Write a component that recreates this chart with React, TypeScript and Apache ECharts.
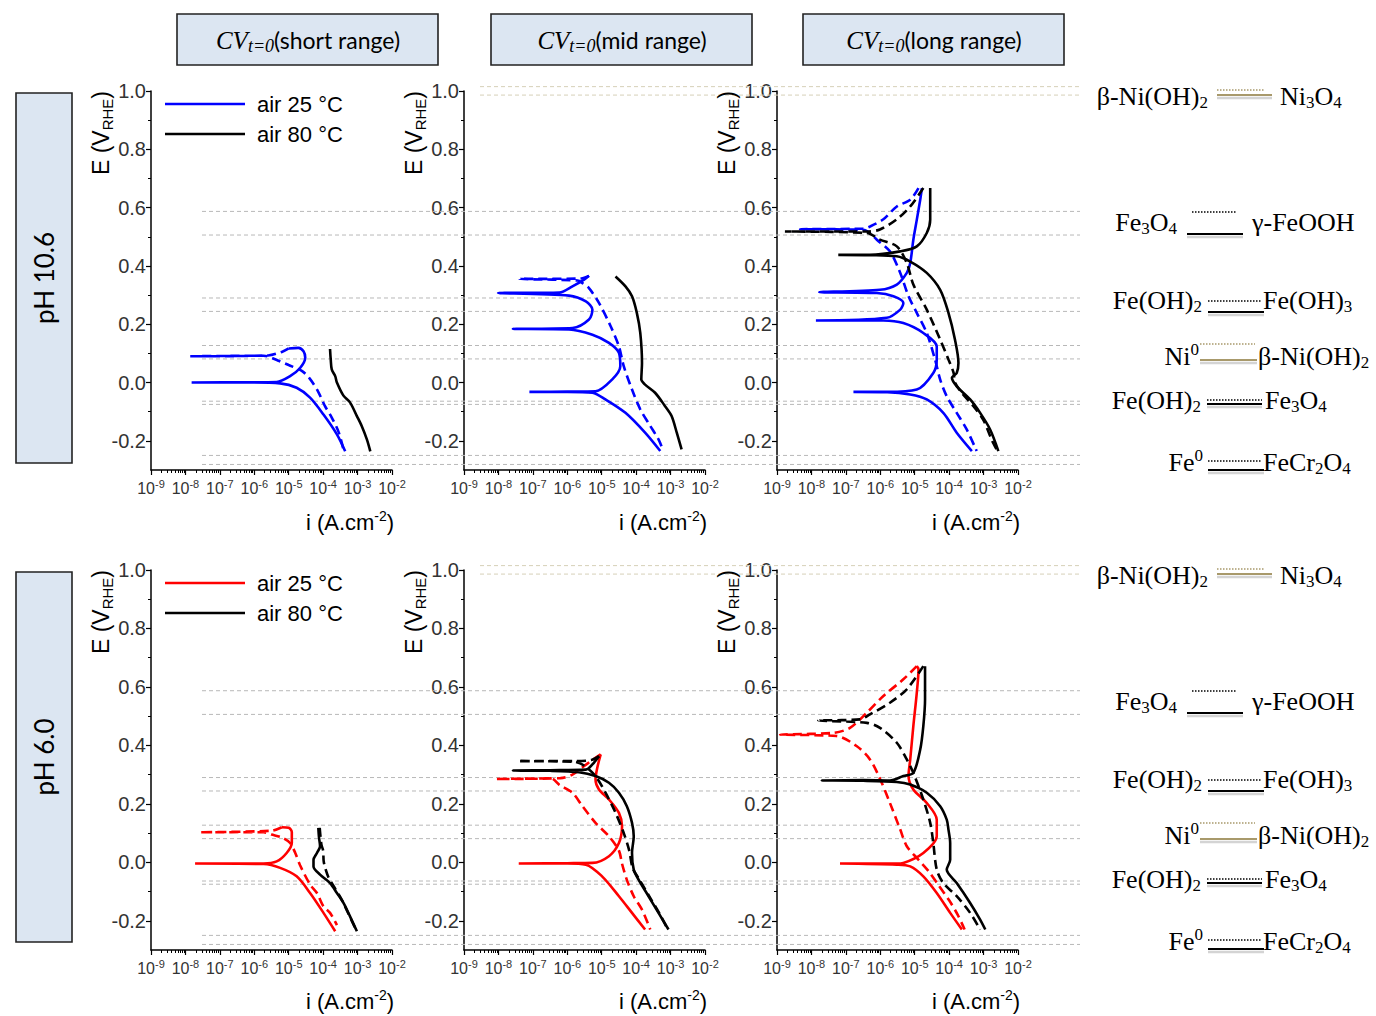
import React, { useEffect, useRef } from 'react';
import * as echarts from 'echarts';

type Pt = [number, number];
// x = log10 of current density i (A.cm^-2), y = E (V_RHE)

// pH 10.6 — short range
const a1BlueSolid: Pt[] = [[-3.36,-0.236],[-3.60,-0.178],[-3.99,-0.110],[-4.38,-0.052],[-4.77,-0.018],[-5.25,-0.003],[-6.20,0.000],[-7.82,0.000],[-6.20,0.001],[-5.35,0.002],[-4.96,0.022],[-4.67,0.050],[-4.52,0.085],[-4.57,0.107],[-4.72,0.119],[-5.00,0.117]];
const a1BlueDash: Pt[] = [[-5.00,0.117],[-5.20,0.105],[-5.60,0.093],[-7.86,0.090],[-5.73,0.092],[-5.30,0.075],[-5.00,0.060],[-4.62,0.040],[-4.40,0.015],[-4.15,-0.030],[-3.95,-0.080],[-3.75,-0.120],[-3.55,-0.170],[-3.42,-0.225]];
const a1Black: Pt[] = [[-3.80,0.115],[-3.78,0.080],[-3.75,0.045],[-3.65,0.022],[-3.60,0.000],[-3.41,-0.045],[-3.22,-0.068],[-3.02,-0.115],[-2.88,-0.149],[-2.73,-0.195],[-2.63,-0.236]];

// pH 10.6 — mid range
const a2BlueSolid: Pt[] = [[-3.30,-0.235],[-3.74,-0.172],[-4.31,-0.104],[-4.89,-0.058],[-5.27,-0.035],[-6.00,-0.032],[-7.10,-0.032],[-6.00,-0.031],[-5.18,-0.030],[-4.70,0.010],[-4.46,0.056],[-4.50,0.102],[-4.79,0.136],[-5.27,0.164],[-5.95,0.182],[-7.58,0.184],[-5.85,0.187],[-5.37,0.216],[-5.27,0.250],[-5.46,0.278],[-5.95,0.298],[-8.01,0.307],[-6.23,0.309],[-5.85,0.330],[-5.51,0.353],[-5.37,0.366]];
const a2BlueDash: Pt[] = [[-5.37,0.366],[-5.60,0.357],[-7.39,0.355],[-5.70,0.350],[-5.56,0.341],[-5.37,0.324],[-5.08,0.273],[-4.74,0.193],[-4.50,0.124],[-4.36,0.056],[-4.12,-0.024],[-3.88,-0.092],[-3.59,-0.149],[-3.35,-0.195],[-3.21,-0.235]];
const a2Black: Pt[] = [[-4.60,0.364],[-4.31,0.330],[-4.12,0.296],[-3.98,0.239],[-3.88,0.170],[-3.83,0.067],[-3.85,0.010],[-3.74,-0.007],[-3.45,-0.035],[-3.16,-0.081],[-2.97,-0.115],[-2.82,-0.172],[-2.68,-0.229]];

// pH 10.6 — long range
const a3BlueSolid: Pt[] = [[-3.34,-0.235],[-3.78,-0.172],[-4.17,-0.104],[-4.65,-0.058],[-5.13,-0.041],[-5.80,-0.033],[-6.78,-0.032],[-5.80,-0.032],[-4.94,-0.024],[-4.46,0.033],[-4.36,0.079],[-4.36,0.124],[-4.75,0.170],[-5.33,0.204],[-5.91,0.213],[-7.87,0.213],[-5.81,0.222],[-5.42,0.250],[-5.33,0.273],[-5.62,0.296],[-6.10,0.307],[-7.77,0.310],[-6.01,0.318],[-5.52,0.336],[-5.23,0.376],[-5.13,0.410],[-5.04,0.490],[-4.94,0.558],[-4.84,0.627],[-4.79,0.667]];
const a3BlueDash: Pt[] = [[-4.89,0.667],[-5.13,0.627],[-5.52,0.604],[-5.91,0.560],[-6.30,0.535],[-6.49,0.528],[-8.33,0.526],[-6.49,0.524],[-6.30,0.513],[-6.10,0.490],[-5.72,0.450],[-5.42,0.376],[-5.18,0.296],[-4.94,0.239],[-4.65,0.170],[-4.41,0.079],[-4.26,0.010],[-4.07,-0.047],[-3.78,-0.104],[-3.49,-0.161],[-3.20,-0.235]];
const a3BlackSolid: Pt[] = [[-4.55,0.667],[-4.55,0.558],[-4.65,0.513],[-4.94,0.467],[-5.42,0.450],[-6.30,0.438],[-7.22,0.438],[-6.30,0.437],[-5.52,0.433],[-5.13,0.415],[-4.65,0.376],[-4.26,0.318],[-4.02,0.239],[-3.83,0.147],[-3.73,0.067],[-3.78,0.033],[-3.92,0.016],[-3.78,-0.013],[-3.39,-0.058],[-3.10,-0.104],[-2.81,-0.161],[-2.57,-0.235]];
const a3BlackDash: Pt[] = [[-4.75,0.667],[-5.13,0.604],[-5.52,0.560],[-6.01,0.525],[-6.39,0.518],[-8.77,0.518],[-6.39,0.513],[-6.01,0.490],[-5.52,0.467],[-5.23,0.410],[-5.04,0.336],[-4.65,0.250],[-4.26,0.147],[-4.02,0.079],[-3.87,0.033],[-3.83,0.000],[-3.60,-0.040],[-3.30,-0.080],[-3.00,-0.130],[-2.75,-0.200],[-2.62,-0.230]];

// pH 6.0 — short range
const b1RedSolid: Pt[] = [[-3.65,-0.236],[-3.99,-0.173],[-4.38,-0.105],[-4.77,-0.048],[-5.25,-0.019],[-5.73,-0.006],[-7.72,-0.004],[-5.73,-0.004],[-5.35,0.003],[-5.06,0.032],[-4.91,0.066],[-4.91,0.103],[-5.00,0.118],[-5.20,0.120]];
const b1RedDash: Pt[] = [[-5.20,0.120],[-5.50,0.108],[-7.58,0.103],[-5.73,0.103],[-5.50,0.095],[-5.20,0.085],[-4.96,0.066],[-4.81,0.032],[-4.67,-0.010],[-4.38,-0.076],[-4.18,-0.105],[-3.99,-0.151],[-3.80,-0.173],[-3.60,-0.215]];
const b1BlackSolid: Pt[] = [[-4.14,0.118],[-4.12,0.085],[-4.09,0.055],[-4.18,0.032],[-4.28,0.009],[-4.28,-0.014],[-4.09,-0.042],[-3.80,-0.071],[-3.60,-0.105],[-3.41,-0.139],[-3.22,-0.185],[-3.02,-0.236]];
const b1BlackDash: Pt[] = [[-4.10,0.118],[-4.05,0.060],[-4.00,0.040],[-3.98,0.000],[-3.85,-0.050],[-3.65,-0.090],[-3.45,-0.130],[-3.25,-0.180],[-3.05,-0.230]];

// pH 6.0 — mid range
const b2RedSolid: Pt[] = [[-3.74,-0.230],[-4.12,-0.173],[-4.50,-0.116],[-4.99,-0.048],[-5.46,-0.008],[-6.00,-0.004],[-7.41,-0.004],[-6.00,-0.003],[-5.27,-0.002],[-4.79,0.021],[-4.50,0.066],[-4.41,0.123],[-4.50,0.169],[-4.79,0.215],[-5.08,0.249],[-5.18,0.283],[-5.13,0.323],[-5.03,0.369]];
const b2RedDash: Pt[] = [[-5.03,0.369],[-5.27,0.350],[-5.56,0.325],[-5.85,0.300],[-6.20,0.288],[-8.06,0.285],[-6.47,0.287],[-6.23,0.265],[-5.85,0.238],[-5.56,0.192],[-5.18,0.135],[-4.79,0.089],[-4.50,0.040],[-4.41,-0.005],[-4.27,-0.060],[-4.07,-0.116],[-3.83,-0.162],[-3.59,-0.230]];
const b2BlackSolid: Pt[] = [[-3.06,-0.230],[-3.35,-0.173],[-3.64,-0.116],[-3.93,-0.059],[-4.07,-0.025],[-4.12,0.032],[-4.07,0.089],[-4.12,0.135],[-4.27,0.192],[-4.50,0.238],[-4.79,0.272],[-5.18,0.295],[-5.66,0.308],[-6.50,0.313],[-7.58,0.314],[-6.50,0.315],[-5.46,0.317],[-5.27,0.335],[-5.08,0.363]];
const b2BlackDash: Pt[] = [[-5.08,0.363],[-5.30,0.350],[-5.75,0.346],[-7.43,0.346],[-5.80,0.344],[-5.50,0.330],[-5.18,0.295],[-4.89,0.238],[-4.60,0.170],[-4.36,0.100],[-4.20,0.040],[-4.10,-0.020],[-3.90,-0.060],[-3.60,-0.120],[-3.30,-0.180],[-3.10,-0.225]];

// pH 6.0 — long range
const b3RedSolid: Pt[] = [[-3.63,-0.230],[-3.97,-0.173],[-4.36,-0.105],[-4.75,-0.048],[-5.13,-0.014],[-5.52,-0.008],[-7.17,-0.004],[-5.52,-0.004],[-5.33,-0.002],[-4.75,0.032],[-4.36,0.089],[-4.36,0.146],[-4.65,0.203],[-5.04,0.249],[-5.18,0.295],[-5.13,0.352],[-5.04,0.466],[-4.94,0.580],[-4.89,0.660],[-4.94,0.671]];
const b3RedDash: Pt[] = [[-4.94,0.671],[-5.33,0.626],[-5.91,0.569],[-6.39,0.512],[-6.88,0.460],[-7.36,0.443],[-8.91,0.437],[-7.27,0.432],[-6.68,0.397],[-6.30,0.352],[-6.01,0.286],[-5.72,0.203],[-5.42,0.112],[-5.23,0.055],[-4.90,0.010],[-4.60,-0.030],[-4.30,-0.080],[-4.00,-0.130],[-3.75,-0.180],[-3.55,-0.230]];
const b3BlackSolid: Pt[] = [[-2.95,-0.230],[-3.10,-0.196],[-3.39,-0.139],[-3.78,-0.071],[-4.07,-0.025],[-3.97,0.009],[-3.97,0.066],[-4.02,0.112],[-4.07,0.146],[-4.26,0.192],[-4.65,0.238],[-5.13,0.266],[-5.52,0.275],[-6.50,0.279],[-7.70,0.280],[-6.50,0.281],[-5.72,0.280],[-5.33,0.295],[-5.04,0.306],[-4.84,0.386],[-4.75,0.466],[-4.70,0.557],[-4.70,0.671]];
const b3BlackDash: Pt[] = [[-4.75,0.671],[-5.23,0.592],[-5.72,0.546],[-6.30,0.506],[-6.59,0.489],[-7.80,0.485],[-6.39,0.477],[-6.01,0.460],[-5.52,0.409],[-5.23,0.352],[-5.04,0.306],[-4.75,0.215],[-4.55,0.135],[-4.46,0.066],[-4.36,-0.025],[-4.17,-0.071],[-3.78,-0.116],[-3.39,-0.173],[-3.10,-0.230]];

// equilibrium potentials (V_RHE)
const eqLevels = [0.587, 0.506, 0.290, 0.244, 0.127, 0.081, -0.064, -0.075, -0.250, -0.281];
const niTopLevels = [1.015, 0.986];

// axes
const yTickValues = [-0.2, 0, 0.2, 0.4, 0.6, 0.8, 1.0];
const yMinorValues = [-0.1, 0.1, 0.3, 0.5, 0.7, 0.9];
const titles = ['short range', 'mid range', 'long range'];
const rowLabels = ['pH 10.6', 'pH 6.0'];
const legendNames = ['air 25 °C', 'air 80 °C'];

const BLUE = '#0000ff';
const RED = '#ff0000';
const BLACK = '#000000';
const KHAKI = '#a8996b';

const SANS = "'Liberation Sans', Arial, sans-serif";
const SERIF = "'Liberation Serif', 'Times New Roman', serif";
const BOXF = "Lato, 'Open Sans', sans-serif";

type Curve = { d: Pt[]; c: string; dash: boolean };
const panels: { row: number; col: number; curves: Curve[] }[] = [
  { row: 0, col: 0, curves: [{ d: a1BlueSolid, c: BLUE, dash: false }, { d: a1BlueDash, c: BLUE, dash: true }, { d: a1Black, c: BLACK, dash: false }] },
  { row: 0, col: 1, curves: [{ d: a2BlueSolid, c: BLUE, dash: false }, { d: a2BlueDash, c: BLUE, dash: true }, { d: a2Black, c: BLACK, dash: false }] },
  { row: 0, col: 2, curves: [{ d: a3BlueSolid, c: BLUE, dash: false }, { d: a3BlueDash, c: BLUE, dash: true }, { d: a3BlackSolid, c: BLACK, dash: false }, { d: a3BlackDash, c: BLACK, dash: true }] },
  { row: 1, col: 0, curves: [{ d: b1RedSolid, c: RED, dash: false }, { d: b1RedDash, c: RED, dash: true }, { d: b1BlackSolid, c: BLACK, dash: false }, { d: b1BlackDash, c: BLACK, dash: true }] },
  { row: 1, col: 1, curves: [{ d: b2RedSolid, c: RED, dash: false }, { d: b2RedDash, c: RED, dash: true }, { d: b2BlackSolid, c: BLACK, dash: false }, { d: b2BlackDash, c: BLACK, dash: true }] },
  { row: 1, col: 2, curves: [{ d: b3RedSolid, c: RED, dash: false }, { d: b3RedDash, c: RED, dash: true }, { d: b3BlackSolid, c: BLACK, dash: false }, { d: b3BlackDash, c: BLACK, dash: true }] },
];

// layout
const COL_LEFT = [151, 464, 777];
const ROW_TOP = [91, 570];
const ROW_H = [379, 380];
const PANEL_W = 241;
const ROW_DY = 479;

function buildOption() {
  const grid: any[] = [];
  const xAxis: any[] = [];
  const yAxis: any[] = [];
  const series: any[] = [];
  const xMinor: number[] = [];
  for (let n = -9; n < -2; n++) for (let k = 2; k <= 9; k++) xMinor.push(n + Math.log10(k));

  panels.forEach((p, g) => {
    grid.push({ left: COL_LEFT[p.col], top: ROW_TOP[p.row], width: PANEL_W, height: ROW_H[p.row] });
    xAxis.push({
      gridIndex: g, type: 'value', min: -9, max: -2, interval: 1, position: 'bottom',
      axisLine: { onZero: false, lineStyle: { color: '#000', width: 1.5 } },
      axisTick: { length: 5, lineStyle: { color: '#000', width: 1.2 } },
      splitLine: { show: false },
      axisLabel: {
        margin: 8, color: '#333',
        formatter: (v: number) => `{b|10}{s|${v}}`,
        rich: {
          b: { fontFamily: SANS, fontSize: 16, color: '#333', lineHeight: 20 },
          s: { fontFamily: SANS, fontSize: 11, color: '#333', lineHeight: 12, verticalAlign: 'top' },
        },
      },
    });
    xAxis.push({
      gridIndex: g, type: 'value', min: -9, max: -2, position: 'bottom',
      axisLine: { show: false, onZero: false }, axisLabel: { show: false }, splitLine: { show: false },
      axisTick: { show: true, length: 3, customValues: xMinor, lineStyle: { color: '#000', width: 1 } },
    });
    yAxis.push({
      gridIndex: g, type: 'value', min: -0.3, max: 1.0, position: 'left',
      axisLine: { show: true, onZero: false, lineStyle: { color: '#000', width: 1.5 } },
      axisTick: { show: true, length: 5, customValues: yTickValues, lineStyle: { color: '#000', width: 1.2 } },
      splitLine: { show: false },
      axisLabel: { customValues: yTickValues, margin: 5, fontFamily: SANS, fontSize: 20, color: '#333', formatter: (v: number) => v.toFixed(1) },
    });
    yAxis.push({
      gridIndex: g, type: 'value', min: -0.3, max: 1.0, position: 'left',
      axisLine: { show: false, onZero: false }, axisLabel: { show: false }, splitLine: { show: false },
      axisTick: { show: true, length: 3, customValues: yMinorValues, lineStyle: { color: '#000', width: 1 } },
    });
    p.curves.forEach((c) => {
      series.push({
        type: 'line', xAxisIndex: 2 * g, yAxisIndex: 2 * g, data: c.d,
        symbol: 'none', smooth: 0.3, silent: true, z: 3,
        lineStyle: { color: c.c, width: 2.6, type: c.dash ? [9, 5] : 'solid' },
      });
    });
  });

  // overlay grids for equilibrium lines
  [0, 1].forEach((r) => {
    const pxPerV = ROW_H[r] / 1.3;
    grid.push({ left: 202, width: 878, top: ROW_TOP[r] - 0.1 * pxPerV, height: 1.4 * pxPerV });
  });
  [0, 1].forEach((r) => {
    const pxPerV = ROW_H[r] / 1.3;
    grid.push({ left: 480, width: 600, top: ROW_TOP[r] - 0.1 * pxPerV, height: 1.4 * pxPerV });
  });
  for (let k = 0; k < 4; k++) {
    xAxis.push({ gridIndex: 6 + k, type: 'value', min: 0, max: 1, show: false });
    yAxis.push({ gridIndex: 6 + k, type: 'value', min: -0.3, max: 1.1, show: false });
  }
  const base = 12;
  [0, 1].forEach((r) => {
    eqLevels.forEach((v) => {
      series.push({
        type: 'line', xAxisIndex: base + r, yAxisIndex: base + r, data: [[0, v], [1, v]],
        symbol: 'none', silent: true, z: 1, lineStyle: { color: '#b8b8b8', width: 1, type: [4, 3] },
      });
    });
    niTopLevels.forEach((v) => {
      series.push({
        type: 'line', xAxisIndex: base + 2 + r, yAxisIndex: base + 2 + r, data: [[0, v], [1, v]],
        symbol: 'none', silent: true, z: 1, lineStyle: { color: '#d6d0b8', width: 1, type: [4, 3] },
      });
    });
  });

  // graphics
  const gr: any[] = [];
  const txt = (x: number, y: number, text: string, rich: any, align = 'center', rotation = 0) => ({
    type: 'text', x, y, rotation, z: 10,
    style: { text, rich, align, verticalAlign: 'middle', textAlign: align, textVerticalAlign: 'middle' },
  });
  const ln = (x1: number, y1: number, x2: number, y2: number, color: string, w: number, dash?: number[]) => {
    const style: any = { stroke: color, lineWidth: w };
    if (dash) style.lineDash = dash;
    return { type: 'line', z: 10, shape: { x1, y1, x2, y2 }, style };
  };

  const titleRich = {
    cv: { fontFamily: SERIF, fontStyle: 'italic', fontSize: 25, color: '#111', lineHeight: 30 },
    t: { fontFamily: SERIF, fontStyle: 'italic', fontSize: 18, color: '#111', lineHeight: 14, verticalAlign: 'bottom' },
    n: { fontFamily: BOXF, fontSize: 23, color: '#111', lineHeight: 30 },
  };
  const TITLE_X = [177, 491, 803];
  titles.forEach((t, i) => {
    gr.push({ type: 'rect', z: 9, shape: { x: TITLE_X[i], y: 14, width: 261, height: 51 }, style: { fill: '#dce6f2', stroke: '#222', lineWidth: 1.6 } });
    gr.push(txt(TITLE_X[i] + 131, 40, `{cv|CV}{t|t=0}{n|(${t})}`, titleRich));
  });

  const rowRich = { n: { fontFamily: BOXF, fontSize: 26, color: '#111' } };
  rowLabels.forEach((t, r) => {
    gr.push({ type: 'rect', z: 9, shape: { x: 16, y: 93 + r * ROW_DY, width: 56, height: 370 }, style: { fill: '#dce6f2', stroke: '#222', lineWidth: 1.6 } });
    gr.push(txt(44, 278 + r * ROW_DY, `{n|${t}}`, rowRich, 'center', Math.PI / 2));
  });

  const legRich = { n: { fontFamily: SANS, fontSize: 22, color: '#222' } };
  [BLUE, RED].forEach((c, r) => {
    const y0 = 104 + r * ROW_DY;
    gr.push(ln(165, y0, 245, y0, c, 2.6));
    gr.push(txt(257, y0, `{n|${legendNames[0]}}`, legRich, 'left'));
    gr.push(ln(165, y0 + 30, 245, y0 + 30, BLACK, 2.6));
    gr.push(txt(257, y0 + 30, `{n|${legendNames[1]}}`, legRich, 'left'));
  });

  const eRich = {
    n: { fontFamily: SANS, fontSize: 23, color: '#222', lineHeight: 28 },
    s: { fontFamily: SANS, fontSize: 15, color: '#222', lineHeight: 14, verticalAlign: 'bottom' },
  };
  const iRich = {
    n: { fontFamily: SANS, fontSize: 22, color: '#222', lineHeight: 26 },
    p: { fontFamily: SANS, fontSize: 14, color: '#222', lineHeight: 14, verticalAlign: 'top' },
  };
  panels.forEach((p) => {
    const dy = p.row * ROW_DY;
    gr.push(txt(COL_LEFT[p.col] - 50, 133 + dy, '{n|E (V}{s|RHE}{n|)}', eRich, 'center', Math.PI / 2));
    gr.push(txt(COL_LEFT[p.col] + 199, 522 + dy, '{n|i (A.cm}{p|-2}{n|)}', iRich, 'center'));
  });

  const eqRich = {
    n: { fontFamily: SERIF, fontSize: 26, color: '#222', lineHeight: 30 },
    s: { fontFamily: SERIF, fontSize: 17, color: '#222', lineHeight: 14, verticalAlign: 'bottom' },
    p: { fontFamily: SERIF, fontSize: 17, color: '#222', lineHeight: 18, verticalAlign: 'top' },
  };
  const eqLegend = [
    { l: '{n|β-Ni(OH)}{s|2}', lx: 1208, r: '{n|Ni}{s|3}{n|O}{s|4}', rx: 1280, y: 96, c: KHAKI, d: [1217, 90, 1265], s: [1217, 95, 1272] },
    { l: '{n|Fe}{s|3}{n|O}{s|4}', lx: 1177, r: '{n|γ-FeOOH}', rx: 1252, y: 222, c: BLACK, d: [1192, 212, 1236], s: [1187, 234, 1243] },
    { l: '{n|Fe(OH)}{s|2}', lx: 1202, r: '{n|Fe(OH)}{s|3}', rx: 1263, y: 300, c: BLACK, d: [1208, 301, 1262], s: [1208, 312, 1264] },
    { l: '{n|Ni}{p|0}', lx: 1199, r: '{n|β-Ni(OH)}{s|2}', rx: 1258, y: 356, c: KHAKI, d: [1200, 344, 1255], s: [1200, 360, 1257] },
    { l: '{n|Fe(OH)}{s|2}', lx: 1201, r: '{n|Fe}{s|3}{n|O}{s|4}', rx: 1265, y: 400, c: BLACK, d: [1207, 400, 1262], s: [1207, 404, 1262] },
    { l: '{n|Fe}{p|0}', lx: 1203, r: '{n|FeCr}{s|2}{n|O}{s|4}', rx: 1263, y: 462, c: BLACK, d: [1208, 461, 1262], s: [1208, 470, 1264] },
  ];
  [0, 1].forEach((r) => {
    const dy = r * ROW_DY;
    eqLegend.forEach((e) => {
      gr.push(txt(e.lx, e.y + dy, e.l, eqRich, 'right'));
      gr.push(txt(e.rx, e.y + dy, e.r, eqRich, 'left'));
      gr.push(ln(e.s[0], e.s[1] + dy + 3, e.s[2], e.s[1] + dy + 3, '#d4d4d4', 2.5));
      gr.push(ln(e.s[0], e.s[1] + dy, e.s[2], e.s[1] + dy, e.c, 2));
      gr.push(ln(e.d[0], e.d[1] + dy, e.d[2], e.d[1] + dy, e.c, 1.5, [1.5, 1.5]));
    });
  });

  return { animation: false, backgroundColor: '#ffffff', grid, xAxis, yAxis, series, graphic: { elements: gr } };
}

export default function App() {
  const ref = useRef<HTMLDivElement>(null);
  useEffect(() => {
    if (!ref.current) return;
    const chart = echarts.init(ref.current, null, { renderer: 'svg' });
    chart.setOption(buildOption() as any);
    return () => chart.dispose();
  }, []);
  return <div ref={ref} style={{ position: 'absolute', left: 0, top: 0, width: 1376, height: 1016, background: '#fff' }} />;
}
